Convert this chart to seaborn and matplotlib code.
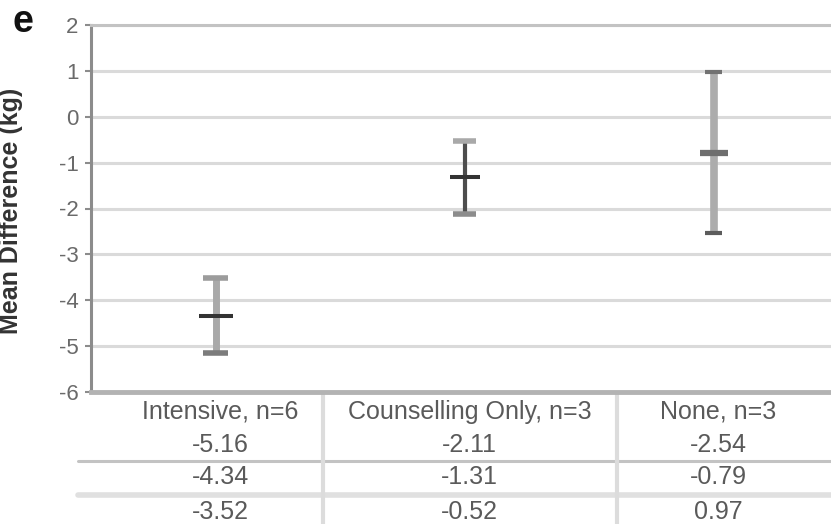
import matplotlib
matplotlib.use("Agg")
import matplotlib.pyplot as plt
import matplotlib.transforms as mtransforms
import seaborn as sns
import pandas as pd

# Mean weight difference (kg) with 95% CI per intervention group
categories = ["Intensive, n=6", "Counselling Only, n=3", "None, n=3"]
lower = [-5.16, -2.11, -2.54]
mean = [-4.34, -1.31, -0.79]
upper = [-3.52, -0.52, 0.97]
yticks = [2, 1, 0, -1, -2, -3, -4, -5, -6]

df = pd.DataFrame({"group": categories, "lower": lower, "mean": mean, "upper": upper})
df["pos"] = range(len(df))

# per-group drawing style: stem, caps, mean dash
styles = [
    dict(stem="#a9a9a9", stem_w=5.0, top="#9c9c9c", bot="#7c7c7c", cap_w=4.0, cap_len=0.10,
         mid="#333333", mid_w=2.9, mid_len=0.14),
    dict(stem="#4d4d4d", stem_w=3.0, top="#a9a9a9", bot="#8c8c8c", cap_w=4.0, cap_len=0.09,
         mid="#333333", mid_w=2.9, mid_len=0.12),
    dict(stem="#acacac", stem_w=5.5, top="#727272", bot="#5c5c5c", cap_w=3.0, cap_len=0.07,
         mid="#6e6e6e", mid_w=4.5, mid_len=0.11),
]

sns.set_theme(style="white")
plt.rcParams["font.family"] = ["Liberation Sans", "DejaVu Sans"]

W, H = 831, 524
fig = plt.figure(figsize=(W / 100, H / 100), dpi=100)
ax_left, ax_right, ax_top, ax_bottom = 91, 838, 25, 392
ax = fig.add_axes([ax_left / W, 1 - ax_bottom / H, (ax_right - ax_left) / W, (ax_bottom - ax_top) / H])

ax.set_xlim(-0.5, 2.5)
ax.set_ylim(-6, 2)

# error bars
for i, row in df.iterrows():
    st = styles[i]
    ax.vlines(row["pos"], row["lower"], row["upper"], color=st["stem"], lw=st["stem_w"], zorder=3)
    ax.hlines(row["upper"], row["pos"] - st["cap_len"] / 2, row["pos"] + st["cap_len"] / 2,
              color=st["top"], lw=st["cap_w"], zorder=4)
    ax.hlines(row["lower"], row["pos"] - st["cap_len"] / 2, row["pos"] + st["cap_len"] / 2,
              color=st["bot"], lw=st["cap_w"], zorder=4)
    sub = df.iloc[[i]]
    sns.scatterplot(data=sub, x="pos", y="mean", marker="_", s=(st["mid_len"] * 248.5 * 0.72) ** 2,
                    linewidth=st["mid_w"], color=st["mid"], ax=ax, zorder=5, legend=False)

# grid and frame
ax.set_yticks(yticks)
ax.yaxis.grid(True, color="#dadada", lw=2.2, zorder=0)
ax.set_axisbelow(True)
ax.set_xticks([])
ax.set_xlabel("")
ax.spines["right"].set_visible(False)
ax.spines["top"].set_color("#c3c3c3")
ax.spines["top"].set_linewidth(2.2)
ax.spines["bottom"].set_color("#b3b3b3")
ax.spines["bottom"].set_linewidth(3.5)
ax.spines["left"].set_color("#8c8c8c")
ax.spines["left"].set_linewidth(2.2)
ax.tick_params(axis="y", which="major", left=True, length=4, width=1.5, color="#8c8c8c",
               pad=5, labelsize=16, labelcolor="#6a6a6a")
ax.set_yticklabels([f"{t}" for t in yticks])

ax.set_ylabel("Mean Difference (kg)", fontsize=18, fontweight="bold", color="#333333")
ax.yaxis.set_label_coords(23 / W, 1 - 211 / H, transform=fig.transFigure)

fig.text(23 / W, 1 - 22 / H, "e", fontsize=27, fontweight="bold", color="#111111",
         ha="center", va="center")

# data table below the axis
trans = mtransforms.blended_transform_factory(ax.transData, fig.transFigure)
rows_y = [412, 445, 477, 512]
table_rows = [categories, [f"{v:.2f}" for v in lower], [f"{v:.2f}" for v in mean],
              [f"{v:.2f}" for v in upper]]
for ry, vals in zip(rows_y, table_rows):
    for j, txt in enumerate(vals):
        fig.text(j + 0.02, 1 - ry / H, txt, transform=trans, ha="center", va="center",
                 fontsize=18, color="#5a5a5a")

for ly, col, lw in [(461, "#c3c3c3", 2.2), (495, "#e0e0e0", 4.0)]:
    fig.add_artist(plt.Line2D([78 / W, 1], [1 - ly / H, 1 - ly / H], transform=fig.transFigure,
                              color=col, lw=lw, zorder=0))
for lx in (323, 617):
    fig.add_artist(plt.Line2D([lx / W, lx / W], [1 - 394 / H, 0], transform=fig.transFigure,
                              color="#dcdcdc", lw=3.0, zorder=0))

fig.savefig("out.png", dpi=100)
